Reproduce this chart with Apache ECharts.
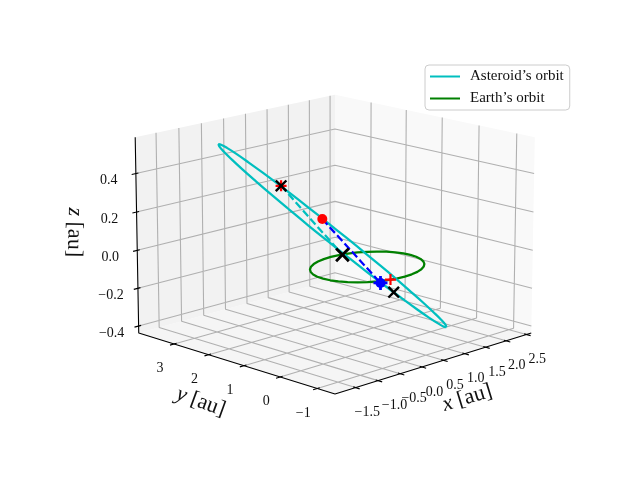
<!DOCTYPE html>
<html lang="en">
<head>
<meta charset="UTF-8">
<title>Asteroid orbit</title>
<script src="https://cdn.jsdelivr.net/npm/echarts@6/dist/echarts.min.js"></script>
<style>html,body{margin:0;background:#fff}</style>
</head>
<body>
<div id="box" style="width:640px;height:480px;"></div>
<script>
// axis limits and ticks, au
var xLim = [-1.95, 2.62], yLim = [-1.47, 4.05], zLim = [-0.437, 0.587];
var xTicks = [-1.5, -1.0, -0.5, 0.0, 0.5, 1.0, 1.5, 2.0, 2.5];
var xTickLabels = ['\u22121.5', '\u22121.0', '\u22120.5', '0.0', '0.5', '1.0', '1.5', '2.0', '2.5'];
var yTicks = [-1, 0, 1, 2, 3];
var yTickLabels = ['\u22121', '0', '1', '2', '3'];
var zTicks = [-0.4, -0.2, 0.0, 0.2, 0.4];
var zTickLabels = ['\u22120.4', '\u22120.2', '0.0', '0.2', '0.4'];

// orbits, au
var earthX = [1,.985,.94,.866,.766,.643,.5,.342,.174,0,-.174,-.342,-.5,-.643,-.766,-.866,-.94,-.985,-1,-.985,-.94,-.866,-.766,-.643,-.5,-.342,-.174,0,.174,.342,.5,.643,.766,.866,.94,.985,1];
var earthY = [0,.174,.342,.5,.643,.766,.866,.94,.985,1,.985,.94,.866,.766,.643,.5,.342,.174,0,-.174,-.342,-.5,-.643,-.766,-.866,-.94,-.985,-1,-.985,-.94,-.866,-.766,-.643,-.5,-.342,-.174,0];
var asteroidX = [0.640,0.665,0.664,0.637,0.584,0.507,0.409,0.292,0.159,0.015,-0.136,-0.289,-0.439,-0.582,-0.714,-0.830,-0.926,-1.001,-1.050,-1.074,-1.070,-1.040,-0.985,-0.906,-0.806,-0.687,-0.555,-0.411,-0.262,-0.111,0.037,0.177,0.307,0.421,0.516,0.590,0.640];
var asteroidY = [-1.382,-1.329,-1.215,-1.041,-0.814,-0.540,-0.228,0.115,0.476,0.846,1.212,1.564,1.890,2.180,2.426,2.619,2.753,2.824,2.831,2.773,2.653,2.473,2.240,1.961,1.646,1.302,0.942,0.576,0.215,-0.131,-0.450,-0.735,-0.976,-1.166,-1.299,-1.372,-1.382];
var asteroidZ = [-0.280,-0.272,-0.252,-0.221,-0.178,-0.126,-0.065,0.001,0.072,0.145,0.218,0.289,0.355,0.414,0.465,0.506,0.535,0.552,0.557,0.548,0.527,0.494,0.450,0.397,0.336,0.269,0.198,0.126,0.054,-0.016,-0.080,-0.138,-0.188,-0.228,-0.257,-0.275,-0.280];

// marked points, au
var nodeA = [-0.415, 1.874, 0.351];
var nodeB = [-0.341, 0.270, 0.068];
var nodeC = [0.107, -0.586, -0.108];
var plusB = [0.280, -0.297, -0.069];
var redPoint = [-0.110, 1.102, 0.198];
var bluePoint = [-0.015, -0.373, -0.064];

var FONT = 'Liberation Serif';

// same camera as the 3d axes: azim -135, elev 15
var azim = -135 * Math.PI / 180, elev = 15 * Math.PI / 180, dist = 12;
var boxX = 1.143, boxY = 1.143, boxZ = 0.827;
var h = [Math.cos(azim), Math.sin(azim)];
var ce = Math.cos(elev), se = Math.sin(elev);
var U = [-h[1], h[0], 0], W = [ce * h[0], ce * h[1], se], V = [-se * h[0], -se * h[1], ce];
var S = 2940, CX = 335, CY = 236;

function dot(a, b) { return a[0] * b[0] + a[1] * b[1] + a[2] * b[2]; }
function project(p) {
    var d = [(p[0] - xLim[0]) / (xLim[1] - xLim[0]) * boxX - boxX / 2,
             (p[1] - yLim[0]) / (yLim[1] - yLim[0]) * boxY - boxY / 2,
             (p[2] - zLim[0]) / (zLim[1] - zLim[0]) * boxZ - boxZ / 2];
    var depth = dist - dot(W, d);
    return [dot(U, d) / depth, dot(V, d) / depth];
}
function path3d(list) { return list.map(project); }
function segs(list) {
    var out = [];
    list.forEach(function (seg) { path3d(seg).forEach(function (q) { out.push(q); }); out.push(['-', '-']); });
    return out;
}
var x0 = xLim[0], x1 = xLim[1], y0 = yLim[0], y1 = yLim[1], z0 = zLim[0], z1 = zLim[1];

function pane(corners, color) {
    return { type: 'custom', silent: true, clip: false, z: 1, data: [[0, 0]], renderItem: function (params, api) {
        return { type: 'polygon', shape: { points: corners.map(function (c) { return api.coord(project(c)); }) }, style: { fill: color } };
    } };
}
var gridSegs = [];
xTicks.forEach(function (t) { gridSegs.push([[t, y0, z0], [t, y1, z0], [t, y1, z1]]); });
yTicks.forEach(function (t) { gridSegs.push([[x0, t, z0], [x1, t, z0], [x1, t, z1]]); });
zTicks.forEach(function (t) { gridSegs.push([[x0, y1, t], [x1, y1, t], [x1, y0, t]]); });

var tickSegs = [];
xTicks.forEach(function (t) { tickSegs.push([[t, y0 - 0.11, z0], [t, y0 + 0.06, z0]]); });
yTicks.forEach(function (t) { tickSegs.push([[x0 - 0.09, t, z0], [x0 + 0.055, t, z0]]); });
zTicks.forEach(function (t) { tickSegs.push([[x0 - 0.09, y1, t], [x0 + 0.055, y1, t]]); });

function lineSeries(name, data, color, width, z, dash, smooth) {
    return { name: name, type: 'line', data: data, symbol: 'none', silent: true, clip: false, z: z, smooth: smooth || false,
        connectNulls: false, itemStyle: { color: color }, lineStyle: { color: color, width: width, type: dash || 'solid', cap: 'butt' } };
}
var PLUS = 'path://M4 0h2v4h4v2H6v4H4V6H0V4h4z';
var THIN = 'path://M4.2 0h1.6v4.2h4.2v1.6H5.8v4.2H4.2V5.8H0V4.2h4.2z';
function marker(pts, symbol, size, rot, color, z) {
    return { type: 'scatter', data: pts.map(project), symbol: symbol, symbolSize: size, symbolRotate: rot, silent: true, clip: false, z: z,
        itemStyle: { color: color, opacity: 1 } };
}
function textSeries(items) {
    return { type: 'custom', silent: true, clip: false, z: 8, data: items.map(function (it, i) { return [i]; }), renderItem: function (params, api) {
        var it = items[params.dataIndex], c = api.coord(project(it.at));
        return { type: 'text', x: c[0] + it.dx, y: c[1] + it.dy, rotation: (it.rot || 0) * Math.PI / 180, style: {
            text: it.text, fill: '#111', font: it.size + 'px "' + FONT + '"', align: 'center', verticalAlign: 'middle',
            rich: { i: { fontStyle: 'italic', fontFamily: FONT, fontSize: it.size, fill: '#111' }, r: { fontFamily: FONT, fontSize: it.size, fill: '#111' } } } };
    } };
}
var labels = [];
var xShift = [11.7, 16.5, 14, 12.5, 11.5, 11, 11.5, 10.5, 10.7];
xTicks.forEach(function (t, i) { labels.push({ at: [t, y0, z0], dx: xShift[i], dy: 25, text: xTickLabels[i], size: 14 }); });
yTicks.forEach(function (t, i) { labels.push({ at: [x0, t, z0], dx: -14, dy: 24.5, text: yTickLabels[i], size: 14 }); });
zTicks.forEach(function (t, i) { labels.push({ at: [x0, y1, t], dx: -27, dy: 7, text: zTickLabels[i], size: 14 }); });
labels.push({ at: [x1, y0, z0], dx: -64, dy: 65, text: '{i|x} {r|[au]}', size: 22, rot: 17 });
labels.push({ at: [x0, y1, z0], dx: 62, dy: 69, text: '{i|y} {r|[au]}', size: 22, rot: -20 });
labels.push({ at: [x0, y1, 0], dx: -63, dy: -18, text: '{i|z} {r|[au]}', size: 22, rot: -91 });

var myChart = echarts.init(document.getElementById('box'));
var option = {
    animation: false,
    grid: { left: 0, top: 0, width: 640, height: 480 },
    xAxis: { type: 'value', show: false, min: -CX / S, max: (640 - CX) / S },
    yAxis: { type: 'value', show: false, min: -(480 - CY) / S, max: CY / S },
    legend: { left: 425, top: 65, orient: 'vertical', data: ['Asteroid\u2019s orbit', 'Earth\u2019s orbit'], itemWidth: 30, itemHeight: 14, itemGap: 7,
        padding: [4, 6, 4, 4], backgroundColor: 'rgba(255,255,255,0.8)', borderColor: '#ccc', borderWidth: 1, borderRadius: 4, z: 20,
        itemStyle: { opacity: 0 },
        textStyle: { fontFamily: FONT, fontSize: 15, color: '#111', padding: [0, 0, 0, 5] } },
    series: [
        pane([[x0, y0, z0], [x1, y0, z0], [x1, y1, z0], [x0, y1, z0]], '#f5f5f5'),
        pane([[x0, y1, z0], [x1, y1, z0], [x1, y1, z1], [x0, y1, z1]], '#f2f2f2'),
        pane([[x1, y0, z0], [x1, y1, z0], [x1, y1, z1], [x1, y0, z1]], '#f9f9f9'),
        lineSeries('grid', segs(gridSegs), '#b0b0b0', 1.1, 2),
        lineSeries('axes', segs([[[x1, y0, z0], [x0, y0, z0], [x0, y1, z0], [x0, y1, z1]]]), '#000', 1.1, 3),
        lineSeries('ticks', segs(tickSegs), '#000', 1.1, 3),
        lineSeries('Earth\u2019s orbit', earthX.map(function (v, i) { return project([v, earthY[i], 0]); }), '#008000', 2.25, 4),
        lineSeries('Asteroid\u2019s orbit', asteroidX.map(function (v, i) { return project([v, asteroidY[i], asteroidZ[i]]); }), '#00bfbf', 2.25, 5, null, 0.4),
        lineSeries('nodes', path3d([nodeA, nodeB]), '#00bfbf', 2.25, 5, [7.7, 3.3]),
        lineSeries('apsides', path3d([redPoint, bluePoint]), '#0000ff', 2.25, 5, [7.7, 3.3]),
        marker([redPoint], 'circle', 10, 0, '#ff0000', 6),
        marker([bluePoint], 'circle', 10, 0, '#0000ff', 6),
        marker([bluePoint], PLUS, 14, 0, '#0000ff', 6),
        marker([nodeA, plusB], PLUS, 11, 0, '#ff0000', 6),
        marker([nodeA, nodeC], THIN, 15, 45, '#000', 7),
        marker([nodeB], THIN, 18, 45, '#000', 7),
        textSeries(labels)
    ]
};
myChart.setOption(option);
</script>
</body>
</html>
